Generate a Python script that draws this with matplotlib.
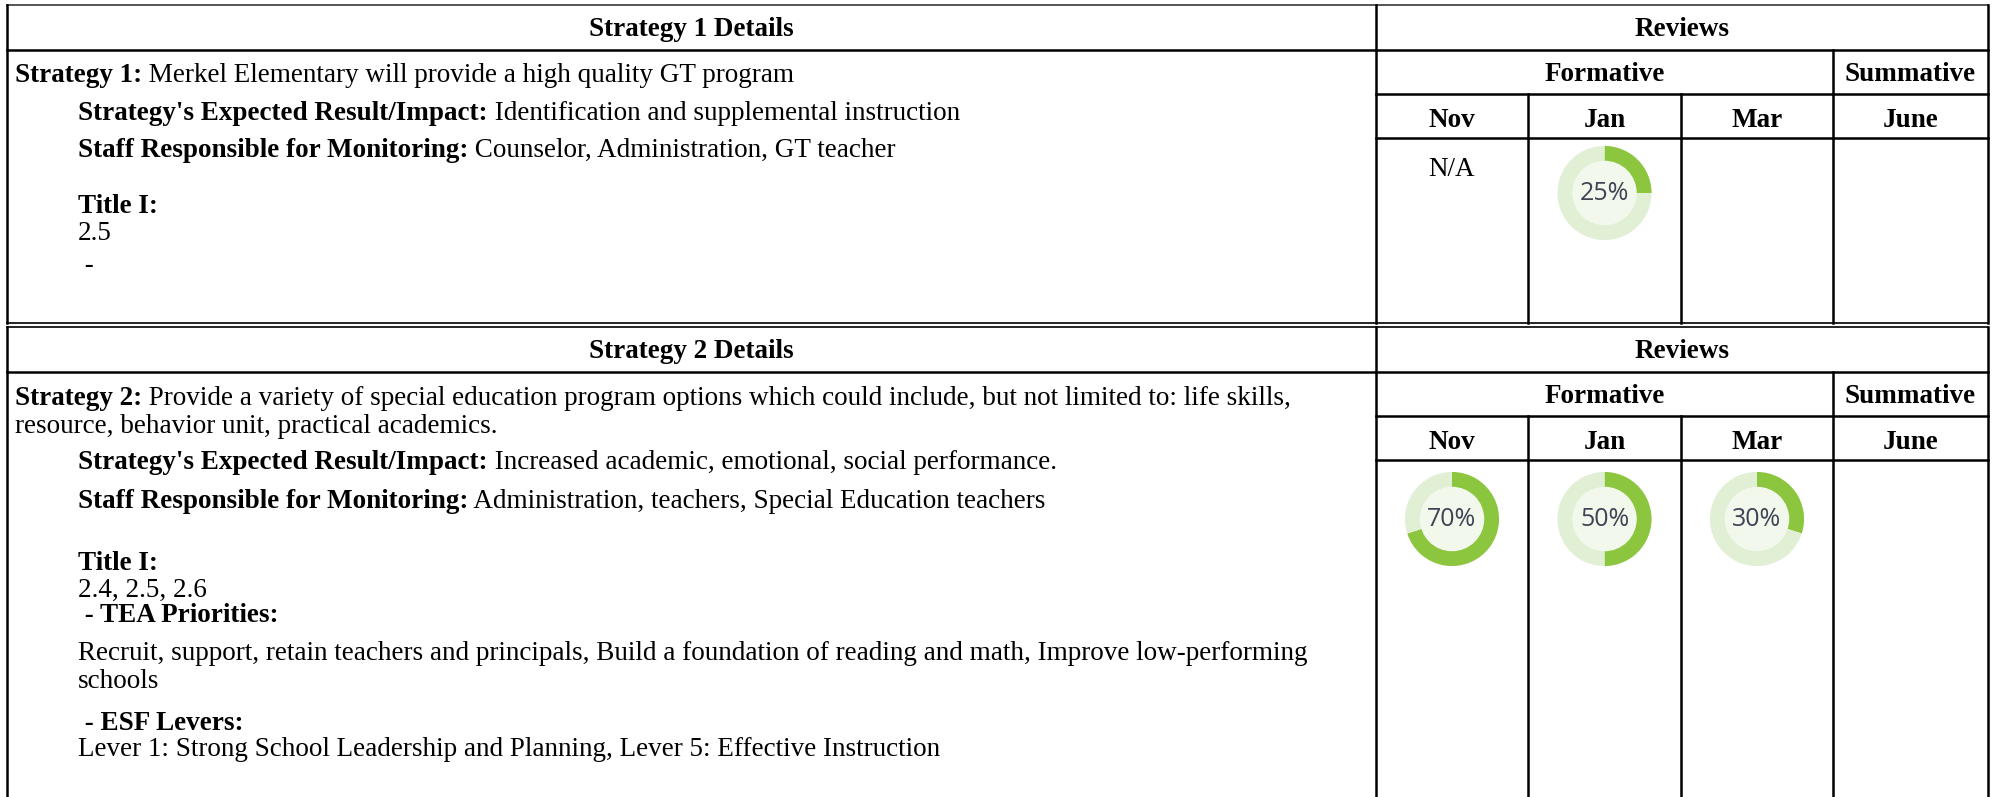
import matplotlib
matplotlib.use("Agg")
import matplotlib.pyplot as plt

# review columns and progress values (None = no review, "N/A" = text)
months = ["Nov", "Jan", "Mar", "June"]
s1_reviews = ["N/A", 25, None, None]
s2_reviews = [70, 50, 30, None]

s1_lines = [
    ("Strategy 1:", " Merkel Elementary will provide a high quality GT program", 0),
    ("Strategy's Expected Result/Impact:", " Identification and supplemental instruction", 1),
    ("Staff Responsible for Monitoring:", " Counselor, Administration, GT teacher", 1),
    ("Title I:", "", 1),
    ("", "2.5", 1),
    ("", " -", 1),
]
s2_lines = [
    ("Strategy 2:", " Provide a variety of special education program options which could include, but not limited to: life skills,", 0),
    ("", "resource, behavior unit, practical academics.", 0),
    ("Strategy's Expected Result/Impact:", " Increased academic, emotional, social performance.", 1),
    ("Staff Responsible for Monitoring:", " Administration, teachers, Special Education teachers", 1),
    ("Title I:", "", 1),
    ("", "2.4, 2.5, 2.6", 1),
    (" - TEA Priorities:", "", 1),
    ("", "Recruit, support, retain teachers and principals, Build a foundation of reading and math, Improve low-performing", 1),
    ("", "schools", 1),
    (" - ESF Levers:", "", 1),
    ("", "Lever 1: Strong School Leadership and Planning, Lever 5: Effective Instruction", 1),
]

W, H = 1997, 797
fig = plt.figure(figsize=(W / 100, H / 100), dpi=100)
ax = fig.add_axes([0, 0, 1, 1])
ax.set_xlim(0, W)
ax.set_ylim(H, 0)
ax.axis("off")

serif = ["Liberation Serif", "DejaVu Serif"]
FS = 19.5
LW = 1.8

x_left, x_div, x_right = 7, 1376, 1988
col_x = [1376, 1528, 1681, 1833, 1988]

GREEN = "#8cc63f"
LIGHT = "#e1efd5"
INNER = "#f2f8ec"


def donut(cx, cy, pct, r=48):
    a = fig.add_axes([(cx - r) / W, 1 - (cy + r) / H, 2 * r / W, 2 * r / H])
    a.pie([pct, 100 - pct], colors=[GREEN, LIGHT], startangle=90,
          counterclock=False, radius=1.0,
          wedgeprops=dict(width=0.33, edgecolor="none"))
    a.add_patch(plt.Circle((0, 0), 0.67, color=INNER, zorder=3))
    a.text(0, 0, f"{pct}%", ha="center", va="center", fontsize=18,
           family="Open Sans", color="#3e4454", zorder=4)
    a.set_xlim(-1.02, 1.02)
    a.set_ylim(-1.02, 1.02)
    a.set_aspect("equal")
    a.axis("off")


def section(top, n, lines, line_y, reviews, bottom, donut_dy):
    h1, h2, h3 = top + 45, top + 89, top + 133
    # header row
    ax.plot([x_left, x_right], [h1, h1], color="black", lw=LW)
    ax.plot([x_div, x_right], [h2, h2], color="black", lw=LW)
    ax.plot([x_div, x_right], [h3, h3], color="black", lw=LW)
    ax.plot([x_left, x_left], [top, bottom], color="black", lw=LW)
    ax.plot([x_div, x_div], [top, bottom], color="black", lw=LW)
    ax.plot([x_right, x_right], [top, bottom], color="black", lw=LW)
    ax.plot([col_x[3], col_x[3]], [h1, bottom], color="black", lw=LW)
    for cx in col_x[1:3]:
        ax.plot([cx, cx], [h2, bottom], color="black", lw=LW)

    dy = 2
    ax.text((x_left + x_div) / 2, (top + h1) / 2 + dy, f"Strategy {n} Details",
            ha="center", va="center", fontsize=FS, family=serif, weight="bold")
    ax.text((x_div + x_right) / 2, (top + h1) / 2 + dy, "Reviews",
            ha="center", va="center", fontsize=FS, family=serif, weight="bold")
    ax.text((col_x[0] + col_x[3]) / 2, (h1 + h2) / 2 + dy, "Formative",
            ha="center", va="center", fontsize=FS, family=serif, weight="bold")
    ax.text((col_x[3] + col_x[4]) / 2, (h1 + h2) / 2 + dy, "Summative",
            ha="center", va="center", fontsize=FS, family=serif, weight="bold")
    for i, m in enumerate(months):
        ax.text((col_x[i] + col_x[i + 1]) / 2, (h2 + h3) / 2 + dy + 2, m,
                ha="center", va="center", fontsize=FS, family=serif, weight="bold")

    # details text
    for (bold, reg, indent), y in zip(lines, line_y):
        x = 15 if indent == 0 else 78
        if bold:
            t = ax.text(x, y, bold, ha="left", va="center", fontsize=FS,
                        family=serif, weight="bold")
            if reg:
                ax.annotate(reg, xy=(1, 0), xycoords=t, ha="left", va="bottom",
                            fontsize=FS, family=serif)
        else:
            ax.text(x, y, reg, ha="left", va="center", fontsize=FS, family=serif)

    # reviews
    for i, v in enumerate(reviews):
        cx = (col_x[i] + col_x[i + 1]) / 2
        if v == "N/A":
            ax.text(cx, h3 + 31, "N/A", ha="center", va="center",
                    fontsize=FS, family=serif)
        elif v is not None:
            donut(cx, h3 + donut_dy, v)


ax.plot([x_left, x_right], [5, 5], color="#555555", lw=1.4)
section(5, 1, s1_lines, [75, 113, 150, 206, 233, 265], s1_reviews, 323, 55)
ax.plot([x_left, x_right], [323, 323], color="black", lw=1.2)
ax.plot([x_left, x_right], [327, 327], color="black", lw=1.2)
section(327, 2, s2_lines,
        [398, 426, 462, 501, 564, 590, 615, 654, 681, 724, 750],
        s2_reviews, H, 59)

fig.savefig("out.png", dpi=100)
